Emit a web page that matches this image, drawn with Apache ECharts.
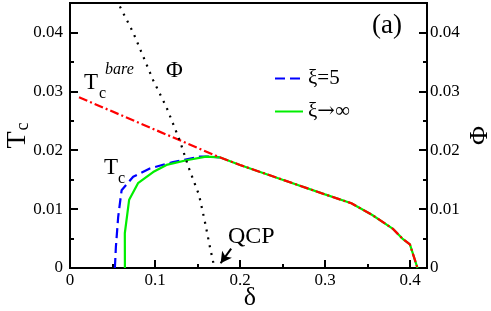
<!DOCTYPE html>
<html>
<head>
<meta charset="utf-8">
<script src="https://cdn.jsdelivr.net/npm/echarts@6/dist/echarts.min.js"></script>
<style>html,body{margin:0;padding:0;background:#fff;}#c{width:491px;height:311px;}</style>
</head>
<body>
<div id="c"></div>
<script>
// ---- data (delta, value) ----
var xiFiveDelta = [0.0528, 0.0540, 0.0567, 0.0607, 0.0743, 0.0939, 0.1213, 0.1526, 0.1680, 0.1760];
var xiFiveTc    = [0.0000, 0.0036, 0.0087, 0.0132, 0.0155, 0.0169, 0.0180, 0.0189, 0.0189, 0.0188];

var xiInfDelta = [0.0646, 0.0645, 0.0696, 0.0800, 0.0978, 0.1135, 0.1370, 0.1600, 0.1760, 0.2000, 0.2500, 0.3000, 0.3310, 0.3556, 0.3795, 0.3910, 0.3999, 0.4088];
var xiInfTc    = [0.0000, 0.0059, 0.0116, 0.0144, 0.0163, 0.0175, 0.0183, 0.0189, 0.0188, 0.0175, 0.0150, 0.0125, 0.0110, 0.0090, 0.0067, 0.0050, 0.0040, 0.0000];

var bareDelta = [0.0106, 0.1760, 0.2000, 0.2500, 0.3000, 0.3310, 0.3556, 0.3795, 0.3910, 0.3999, 0.4088];
var bareTc    = [0.0290, 0.0188, 0.0175, 0.0150, 0.0125, 0.0110, 0.0090, 0.0067, 0.0050, 0.0040, 0.0000];

var phiDelta = [0.0587, 0.0743, 0.0978, 0.1135, 0.1290, 0.1400, 0.1518, 0.1585, 0.1650, 0.1700];
var phiValue = [0.0444, 0.0400, 0.0319, 0.0273, 0.0217, 0.0169, 0.0124, 0.0080, 0.0033, 0.0000];

var qcpArrowFrom = [0.1896, 0.0033];
var qcpArrowTo   = [0.1772, 0.0008];

var xTicks = [0, 0.1, 0.2, 0.3, 0.4];
var yTicks = [0, 0.01, 0.02, 0.03, 0.04];

function pairs(xs, ys) { return xs.map(function (x, i) { return [x, ys[i]]; }); }

var SERIF = "Liberation Serif";
var chart = echarts.init(document.getElementById('c'), null, {renderer: 'canvas'});

var yAxisCommon = {
  type: 'value', min: 0, max: 0.045, interval: 0.01,
  nameMoveOverlap: false,
  axisLine: {show: true, lineStyle: {color: '#000', width: 2}},
  axisTick: {show: true, inside: true, length: 8, lineStyle: {color: '#000', width: 2}},
  minorTick: {show: true, splitNumber: 2, length: 4, lineStyle: {color: '#000', width: 2}},
  splitLine: {show: false},
  axisLabel: {
    showMaxLabel: false, color: '#000', fontFamily: SERIF, fontSize: 17,
    formatter: function (v) { return v === 0 ? '0' : v.toFixed(2); }
  }
};

var option = {
  animation: false,
  backgroundColor: '#fff',
  textStyle: {fontFamily: SERIF, color: '#000'},
  grid: {left: 70, right: 64, top: 3, bottom: 43, outerBoundsMode: 'none', containLabel: false,
         show: true, borderColor: '#000', borderWidth: 2},
  xAxis: {
    type: 'value', min: 0, max: 0.42, interval: 0.1,
    name: 'δ', nameLocation: 'middle', nameGap: 17, nameMoveOverlap: false,
    nameTextStyle: {fontFamily: SERIF, fontSize: 26, color: '#000', verticalAlign: 'top', padding: [0, 0, 0, 3]},
    axisLine: {show: true, onZero: false, lineStyle: {color: '#000', width: 2}},
    axisTick: {show: true, inside: true, length: 8, lineStyle: {color: '#000', width: 2}},
    minorTick: {show: true, splitNumber: 2, length: 4, lineStyle: {color: '#000', width: 2}},
    splitLine: {show: false},
    axisLabel: {
      showMaxLabel: false, margin: 4, color: '#000', fontFamily: SERIF, fontSize: 17,
      formatter: function (v) { return v === 0 ? '0' : v.toFixed(1); }
    }
  },
  yAxis: [
    Object.assign({}, yAxisCommon, {
      position: 'left',
      name: '{t|T}{s|c}', nameLocation: 'middle', nameRotate: 90, nameGap: 38,
      nameTextStyle: {
        color: '#000',
        rich: {
          t: {fontFamily: SERIF, fontSize: 28, lineHeight: 28, verticalAlign: 'top', color: '#000'},
          s: {fontFamily: SERIF, fontSize: 18, lineHeight: 18, verticalAlign: 'bottom', padding: [14, 0, 0, 1], color: '#000'}
        }
      },
      axisLabel: Object.assign({}, yAxisCommon.axisLabel, {margin: 7})
    }),
    Object.assign({}, yAxisCommon, {
      position: 'right',
      name: 'Φ', nameLocation: 'middle', nameRotate: 90, nameGap: 40,
      nameTextStyle: {fontFamily: SERIF, fontSize: 26, color: '#000'},
      axisLabel: Object.assign({}, yAxisCommon.axisLabel, {margin: 3})
    })
  ],
  legend: {
    data: ['ξ=5', 'ξ→∞'],
    orient: 'vertical', left: 269, top: 63,
    itemWidth: 28, itemHeight: 14, itemGap: 12,
    itemStyle: {opacity: 0},
    formatter: function (name) { return name === 'ξ→∞' ? '{g|ξ}{a|→}{g|∞}' : '{g|' + name + '}'; },
    textStyle: {
      fontFamily: SERIF, fontSize: 21, lineHeight: 20, color: '#000',
      rich: {
        g: {fontFamily: SERIF, fontSize: 21, color: '#000'},
        a: {fontFamily: 'DejaVu Serif', fontSize: 21, color: '#000'}
      }
    },
    selectedMode: false
  },
  series: [
    {
      name: 'ξ=5', type: 'line', yAxisIndex: 0, showSymbol: false, symbol: 'none',
      data: pairs(xiFiveDelta, xiFiveTc),
      lineStyle: {color: '#0000ff', width: 2.2, type: [10, 5]},
      itemStyle: {color: '#0000ff'}, z: 2
    },
    {
      name: 'ξ→∞', type: 'line', yAxisIndex: 0, showSymbol: false, symbol: 'none',
      data: pairs(xiInfDelta, xiInfTc),
      lineStyle: {color: '#00ee00', width: 2.2, type: 'solid'},
      itemStyle: {color: '#00ee00'}, z: 3
    },
    {
      name: 'Tc bare', type: 'line', yAxisIndex: 0, showSymbol: false, symbol: 'none',
      data: pairs(bareDelta, bareTc),
      lineStyle: {color: '#ff0000', width: 2.2, type: [9, 3, 2, 3]},
      itemStyle: {color: '#ff0000'}, z: 4
    },
    {
      name: 'Φ', type: 'line', yAxisIndex: 1, showSymbol: false, symbol: 'none',
      data: pairs(phiDelta, phiValue),
      lineStyle: {color: '#000', width: 2.2, type: [2, 6]},
      itemStyle: {color: '#000'}, z: 5,
      markLine: {
        silent: true, symbol: ['none', 'arrow'], symbolSize: [9, 11],
        label: {show: false},
        lineStyle: {color: '#000', width: 2, type: 'solid'},
        data: [[{coord: qcpArrowFrom}, {coord: qcpArrowTo}]]
      }
    }
  ],
  graphic: [
    {type: 'text', x: 372, y: 26, style: {text: '(a)', font: '27px ' + SERIF, fill: '#000', textVerticalAlign: 'middle'}},
    {type: 'text', x: 166, y: 71, style: {text: 'Φ', font: '23px ' + SERIF, fill: '#000', textVerticalAlign: 'middle'}},
    {type: 'text', x: 84, y: 83, style: {text: 'T', font: '23px ' + SERIF, fill: '#000', textVerticalAlign: 'middle'}},
    {type: 'text', x: 99, y: 94, style: {text: 'c', font: '16px ' + SERIF, fill: '#000', textVerticalAlign: 'middle'}},
    {type: 'text', x: 105, y: 70, style: {text: 'bare', font: 'italic 16px ' + SERIF, fill: '#000', textVerticalAlign: 'middle'}},
    {type: 'text', x: 104, y: 168, style: {text: 'T', font: '23px ' + SERIF, fill: '#000', textVerticalAlign: 'middle'}},
    {type: 'text', x: 118, y: 179, style: {text: 'c', font: '16px ' + SERIF, fill: '#000', textVerticalAlign: 'middle'}},
    {type: 'text', x: 228, y: 237, style: {text: 'QCP', font: '24px ' + SERIF, fill: '#000', textVerticalAlign: 'middle'}}
  ]
};
chart.setOption(option);
</script>
</body>
</html>
